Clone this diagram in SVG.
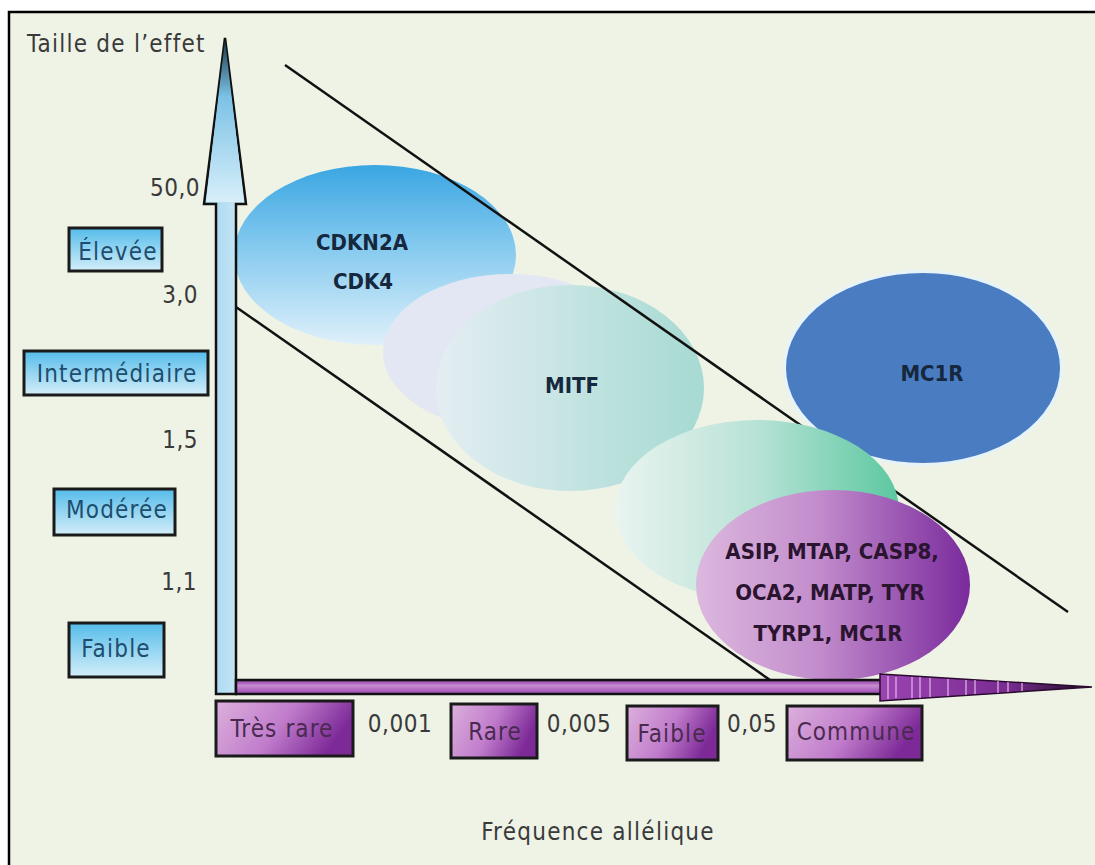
<svg xmlns="http://www.w3.org/2000/svg" width="1095" height="865" viewBox="0 0 1095 865">
<defs>
<linearGradient id="gBox" x1="0" y1="0" x2="0" y2="1"><stop offset="0" stop-color="#55bcea"/><stop offset="1" stop-color="#d4eef9"/></linearGradient>
<linearGradient id="gPBox" x1="0" y1="0" x2="1" y2="0.3"><stop offset="0" stop-color="#dcb0dc"/><stop offset="0.55" stop-color="#c07ccb"/><stop offset="1" stop-color="#7d2a98"/></linearGradient>
<linearGradient id="gVShaft" x1="0" y1="0" x2="1" y2="0"><stop offset="0" stop-color="#9fd4ef"/><stop offset="1" stop-color="#cfeaf7"/></linearGradient>
<linearGradient id="gVHead" x1="0" y1="0" x2="0" y2="1"><stop offset="0" stop-color="#1a3a4a"/><stop offset="0.35" stop-color="#7cc2e6"/><stop offset="1" stop-color="#d8effa"/></linearGradient>
<linearGradient id="gHShaft" x1="0" y1="0" x2="0" y2="1"><stop offset="0" stop-color="#8a3aa0"/><stop offset="0.4" stop-color="#c88ad2"/><stop offset="1" stop-color="#9a48b0"/></linearGradient>
<linearGradient id="gHHead" x1="0" y1="0" x2="1" y2="0"><stop offset="0" stop-color="#9a44b2"/><stop offset="0.6" stop-color="#7a2c92"/><stop offset="1" stop-color="#1a0a1e"/></linearGradient>
<linearGradient id="gCDK" x1="0" y1="0" x2="0" y2="1"><stop offset="0" stop-color="#3aa6e2"/><stop offset="0.5" stop-color="#8ccdf0"/><stop offset="1" stop-color="#dff0fa"/></linearGradient>
<linearGradient id="gMITF" x1="0" y1="0" x2="1" y2="0"><stop offset="0" stop-color="#e4eef2"/><stop offset="1" stop-color="#a6dad2"/></linearGradient>
<linearGradient id="gTeal" x1="0" y1="0" x2="1" y2="0"><stop offset="0" stop-color="#eaf4f0"/><stop offset="0.5" stop-color="#b8e2d6"/><stop offset="1" stop-color="#5cc8a0"/></linearGradient>
<linearGradient id="gPurp" x1="0" y1="0" x2="1" y2="0"><stop offset="0" stop-color="#dcb8de"/><stop offset="0.45" stop-color="#c28ccc"/><stop offset="1" stop-color="#7a2a9c"/></linearGradient>
<style>
.t{font-family:"DejaVu Sans Condensed","DejaVu Sans","Liberation Sans",sans-serif;}
.axis{font-size:24px;fill:#3a3a3a;letter-spacing:1.25px;}
.tick{font-size:24px;fill:#3a3a3a;letter-spacing:0.5px;}
.lbl{font-size:24px;fill:#1e4e6e;letter-spacing:1.2px;}
.plbl{font-size:24px;fill:#4a2a50;letter-spacing:1.1px;}
.gene{font-size:22px;font-weight:bold;fill:#16283e;}
.pgene{fill:#2a1430;}
.box{stroke:#1a1a1a;stroke-width:3;}
.diag{stroke:#111;stroke-width:2.5;fill:none;}
.stripe{stroke:#e6b8ec;stroke-width:1.5;opacity:0.8;}
</style>
</defs>
<rect x="0" y="0" width="1095" height="865" fill="#ffffff"/>
<rect id="frame" x="9" y="12" width="1100" height="870" fill="#eef3e6" stroke="#000" stroke-width="2.5"/>

<g id="node-cdkn2a">
<ellipse cx="375" cy="255" rx="141" ry="90" fill="url(#gCDK)"/>
<text class="t gene" x="362" y="250" text-anchor="middle">CDKN2A</text>
<text class="t gene" x="363" y="289" text-anchor="middle">CDK4</text>
</g>

<g id="node-mitf">
<ellipse cx="510" cy="352" rx="127" ry="78" fill="#e2e7f3"/>
<ellipse cx="570" cy="388" rx="134" ry="103" fill="url(#gMITF)"/>
<text class="t gene" x="572" y="393" text-anchor="middle">MITF</text>
</g>

<g id="node-mc1r">
<ellipse cx="923" cy="368" rx="140" ry="98" fill="#e6f4fa"/>
<ellipse cx="923" cy="368" rx="137" ry="95" fill="#4a7cc2"/>
<text class="t gene" x="932" y="381" text-anchor="middle">MC1R</text>
</g>

<g id="connectors">
<line class="diag" x1="285" y1="65" x2="1068" y2="612"/>
<line class="diag" x1="236" y1="307" x2="770" y2="680"/>
</g>

<g id="node-teal">
<ellipse cx="757" cy="510" rx="142" ry="90" fill="url(#gTeal)"/>
</g>

<g id="node-purple">
<ellipse cx="833" cy="585" rx="137" ry="95" fill="url(#gPurp)"/>
<text class="t gene pgene" x="832" y="559" text-anchor="middle">ASIP, MTAP, CASP8,</text>
<text class="t gene pgene" x="830" y="600" text-anchor="middle">OCA2, MATP, TYR</text>
<text class="t gene pgene" x="828" y="641" text-anchor="middle">TYRP1, MC1R</text>
</g>

<g id="y-axis">
<path d="M225,38 L246,204 L236,204 L236,694 L216,694 L216,204 L204,204 Z" fill="url(#gVShaft)" stroke="#111" stroke-width="2.5"/>
<path d="M225,40 L244,202 L206,202 Z" fill="url(#gVHead)"/>
<text class="t axis" x="27" y="52">Taille de l’effet</text>
</g>

<g id="x-axis">
<rect x="236" y="680" width="646" height="14" fill="url(#gHShaft)" stroke="#111" stroke-width="2.5"/>
<path d="M880,674 L1092,687 L880,701 Z" fill="url(#gHHead)" stroke="#2a0a2e" stroke-width="1.5"/>
<line class="stripe" x1="888" y1="676" x2="888" y2="699"/>
<line class="stripe" x1="896" y1="677" x2="896" y2="698"/>
<line class="stripe" x1="912" y1="677" x2="912" y2="698"/>
<line class="stripe" x1="920" y1="677" x2="920" y2="698"/>
<line class="stripe" x1="930" y1="678" x2="930" y2="697"/>
<line class="stripe" x1="948" y1="679" x2="948" y2="696"/>
<line class="stripe" x1="966" y1="680" x2="966" y2="695"/>
<line class="stripe" x1="975" y1="680" x2="975" y2="694"/>
<line class="stripe" x1="998" y1="681" x2="998" y2="693"/>
<line class="stripe" x1="1008" y1="682" x2="1008" y2="692"/>
<line class="stripe" x1="1022" y1="683" x2="1022" y2="691"/>
<text class="t axis" x="598" y="840" text-anchor="middle">Fréquence allélique</text>
</g>

<g id="ticks-y">
<text class="t tick" x="200" y="196" text-anchor="end">50,0</text>
<text class="t tick" x="198" y="303" text-anchor="end">3,0</text>
<text class="t tick" x="198" y="448" text-anchor="end">1,5</text>
<text class="t tick" x="197" y="590" text-anchor="end">1,1</text>
</g>

<g id="label-elevee">
<rect class="box" x="69" y="228" width="93" height="43" fill="url(#gBox)"/>
<text class="t lbl" x="118" y="260" text-anchor="middle">Élevée</text>
</g>
<g id="label-intermediaire">
<rect class="box" x="24" y="351" width="184" height="44" fill="url(#gBox)"/>
<text class="t lbl" x="117" y="382" text-anchor="middle">Intermédiaire</text>
</g>
<g id="label-moderee">
<rect class="box" x="54" y="489" width="121" height="46" fill="url(#gBox)"/>
<text class="t lbl" x="117" y="518" text-anchor="middle">Modérée</text>
</g>
<g id="label-faible-y">
<rect class="box" x="69" y="623" width="95" height="54" fill="url(#gBox)"/>
<text class="t lbl" x="116" y="657" text-anchor="middle">Faible</text>
</g>

<g id="label-tres-rare">
<rect class="box" x="216" y="701" width="137" height="55" fill="url(#gPBox)"/>
<text class="t plbl" x="282" y="737" text-anchor="middle">Très rare</text>
</g>
<g id="label-rare">
<rect class="box" x="451" y="704" width="86" height="54" fill="url(#gPBox)"/>
<text class="t plbl" x="495" y="740" text-anchor="middle">Rare</text>
</g>
<g id="label-faible-x">
<rect class="box" x="627" y="706" width="91" height="54" fill="url(#gPBox)"/>
<text class="t plbl" x="672" y="742" text-anchor="middle">Faible</text>
</g>
<g id="label-commune">
<rect class="box" x="787" y="706" width="135" height="54" fill="url(#gPBox)"/>
<text class="t plbl" x="856" y="740" text-anchor="middle">Commune</text>
</g>

<g id="ticks-x">
<text class="t tick" x="400" y="732" text-anchor="middle">0,001</text>
<text class="t tick" x="579" y="732" text-anchor="middle">0,005</text>
<text class="t tick" x="752" y="732" text-anchor="middle">0,05</text>
</g>
</svg>
